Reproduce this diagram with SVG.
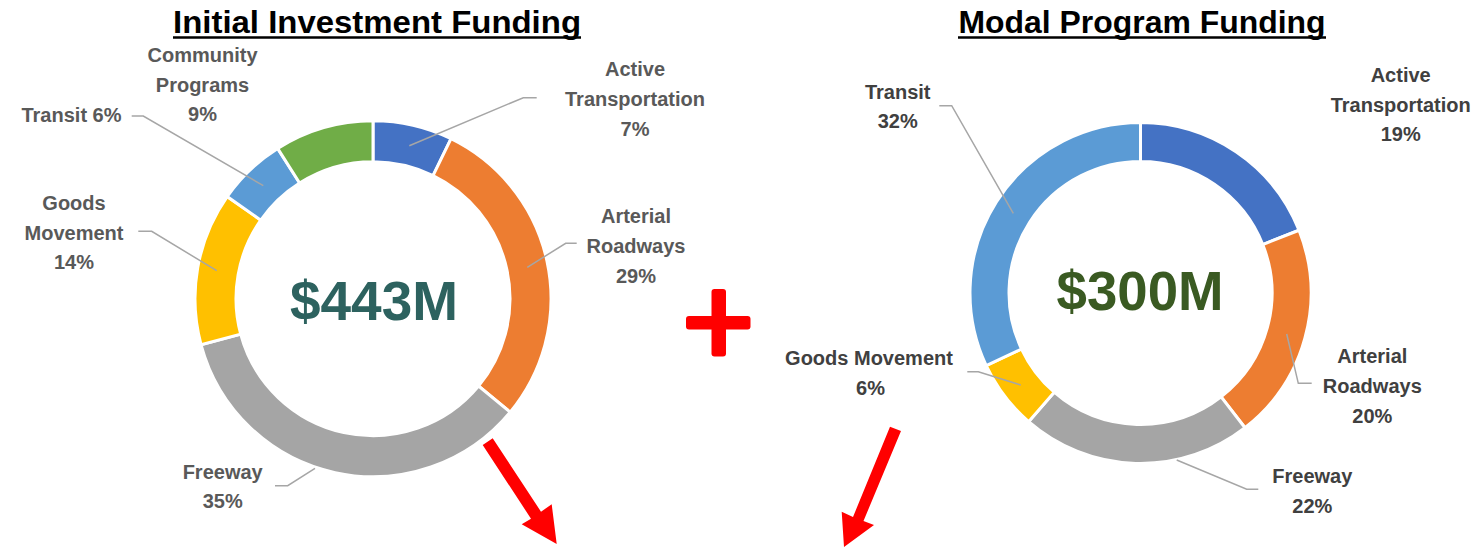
<svg xmlns="http://www.w3.org/2000/svg" width="1484" height="547" viewBox="0 0 1484 547">
<style>
.title{font-family:"Liberation Sans",Arial,sans-serif;font-weight:bold;font-size:32px;fill:#000;text-anchor:middle}
.ul{stroke:#000;stroke-width:2.6}
.lbl{font-family:"Liberation Sans",Arial,sans-serif;font-weight:bold;font-size:20px;fill:#595959;text-anchor:middle}
.lblr{font-family:"Liberation Sans",Arial,sans-serif;font-weight:bold;font-size:20px;fill:#404040;text-anchor:middle}
.big{font-family:"Liberation Sans",Arial,sans-serif;font-weight:bold;font-size:55px;text-anchor:middle}
.seg{stroke:#fff;stroke-width:3;stroke-linejoin:miter}
.lead{fill:none;stroke:#A6A6A6;stroke-width:1.5}
.red{fill:#FF0000}
</style>
<rect width="1484" height="547" fill="#fff"/>
<g id="title-left">
<text class="title" x="377" y="33" textLength="408" lengthAdjust="spacingAndGlyphs">Initial Investment Funding</text>
<line class="ul" x1="173" y1="37.5" x2="581" y2="37.5"/>
</g>
<g id="title-right">
<text class="title" x="1142" y="33" textLength="367" lengthAdjust="spacingAndGlyphs">Modal Program Funding</text>
<line class="ul" x1="958" y1="37.5" x2="1326" y2="37.5"/>
</g>
<g id="donut-left">
<path id="l-active" class="seg" fill="#4472C4" d="M373,120.7 A178,178 0 0 1 451.04,138.71 L433.06,175.56 A137,137 0 0 0 373,161.7 Z"/>
<path id="l-arterial" class="seg" fill="#ED7D31" d="M451.04,138.71 A178,178 0 0 1 510.15,412.16 L478.56,386.02 A137,137 0 0 0 433.06,175.56 Z"/>
<path id="l-freeway" class="seg" fill="#A5A5A5" d="M510.15,412.16 A178,178 0 0 1 201.07,344.77 L240.67,334.16 A137,137 0 0 0 478.56,386.02 Z"/>
<path id="l-goods" class="seg" fill="#FFC000" d="M201.07,344.77 A178,178 0 0 1 227.18,196.60 L260.77,220.12 A137,137 0 0 0 240.67,334.16 Z"/>
<path id="l-transit" class="seg" fill="#5B9BD5" d="M227.18,196.60 A178,178 0 0 1 277.63,148.41 L299.60,183.03 A137,137 0 0 0 260.77,220.12 Z"/>
<path id="l-community" class="seg" fill="#70AD47" d="M277.63,148.41 A178,178 0 0 1 373,120.7 L373,161.7 A137,137 0 0 0 299.60,183.03 Z"/>
<text class="big" x="374" y="320" fill="#2D625F" textLength="168" lengthAdjust="spacingAndGlyphs">$443M</text>
</g>
<g id="donut-right">
<path id="r-active" class="seg" fill="#4472C4" d="M1140.5,122.5 A170.5,170.5 0 0 1 1299.03,230.24 L1262.77,244.60 A131.5,131.5 0 0 0 1140.5,161.5 Z"/>
<path id="r-arterial" class="seg" fill="#ED7D31" d="M1299.03,230.24 A170.5,170.5 0 0 1 1245,427.73 L1221.10,396.91 A131.5,131.5 0 0 0 1262.77,244.60 Z"/>
<path id="r-freeway" class="seg" fill="#A5A5A5" d="M1245,427.73 A170.5,170.5 0 0 1 1028.64,421.68 L1054.22,392.24 A131.5,131.5 0 0 0 1221.10,396.91 Z"/>
<path id="r-goods" class="seg" fill="#FFC000" d="M1028.64,421.68 A170.5,170.5 0 0 1 986.23,365.60 L1021.52,348.99 A131.5,131.5 0 0 0 1054.22,392.24 Z"/>
<path id="r-transit" class="seg" fill="#5B9BD5" d="M986.23,365.60 A170.5,170.5 0 0 1 1140.5,122.5 L1140.5,161.5 A131.5,131.5 0 0 0 1021.52,348.99 Z"/>
<text class="big" x="1140" y="310" fill="#3A5A22" font-size="54" textLength="167" lengthAdjust="spacingAndGlyphs">$300M</text>
</g>
<g id="connectors">
<polyline class="lead" points="409.3,145.7 523.3,97.7 536.7,97.7"/>
<polyline class="lead" points="527.3,267.3 565.7,243.3 576.7,243.3"/>
<polyline class="lead" points="131.7,116 143.3,116 263.3,185.7"/>
<polyline class="lead" points="138.3,231.3 151.7,231.3 216.7,270.7"/>
<polyline class="lead" points="275,485.7 287.7,485.7 315,468.3"/>
<polyline class="lead" points="939.3,105.7 951.7,105.7 1013.3,213.3"/>
<polyline class="lead" points="967.3,371.7 978.3,371.7 1020.7,385"/>
<polyline class="lead" points="1286.7,334 1298.3,383.3 1311.7,383.3"/>
<polyline class="lead" points="1176.7,460 1246.7,489.3 1258.3,489.3"/>
</g>
<g id="labels-left">
<text class="lbl" x="202.5"><tspan x="202.5" y="62">Community</tspan><tspan x="202.5" y="92">Programs</tspan><tspan x="202.5" y="121">9%</tspan></text>
<text class="lbl" x="71.5" y="122">Transit 6%</text>
<text class="lbl"><tspan x="74" y="210">Goods</tspan><tspan x="74" y="239.5">Movement</tspan><tspan x="74" y="269">14%</tspan></text>
<text class="lbl"><tspan x="635" y="76">Active</tspan><tspan x="635" y="106">Transportation</tspan><tspan x="635" y="136">7%</tspan></text>
<text class="lbl"><tspan x="636" y="222.7">Arterial</tspan><tspan x="636" y="252.7">Roadways</tspan><tspan x="636" y="282.7">29%</tspan></text>
<text class="lbl"><tspan x="222.7" y="479.3">Freeway</tspan><tspan x="222.7" y="508.3">35%</tspan></text>
</g>
<g id="labels-right">
<text class="lblr"><tspan x="897.7" y="99.3">Transit</tspan><tspan x="897.7" y="128.3">32%</tspan></text>
<text class="lblr"><tspan x="869" y="365">Goods Movement</tspan><tspan x="870.5" y="395">6%</tspan></text>
<text class="lblr"><tspan x="1400.7" y="81.7">Active</tspan><tspan x="1400.7" y="111.7">Transportation</tspan><tspan x="1400.7" y="141">19%</tspan></text>
<text class="lblr"><tspan x="1372.3" y="363.3">Arterial</tspan><tspan x="1372.3" y="393.3">Roadways</tspan><tspan x="1372.3" y="422.7">20%</tspan></text>
<text class="lblr"><tspan x="1312.3" y="483.3">Freeway</tspan><tspan x="1312.3" y="513.3">22%</tspan></text>
</g>
<g id="plus">
<rect class="red" x="711.5" y="289" width="14.5" height="67.5" rx="3"/>
<rect class="red" x="686" y="316" width="64.5" height="13.5" rx="3"/>
</g>
<g id="arrow-left">
<polygon class="red" points="482.7,445 492.7,438.3 541,511.7 551.7,504.3 556.7,544 521.7,524.3 531,518.7"/>
</g>
<g id="arrow-right">
<polygon class="red" points="890,426.7 901,431 863.5,521 874,525 844,547 841.7,511.7 853,517"/>
</g>
</svg>
